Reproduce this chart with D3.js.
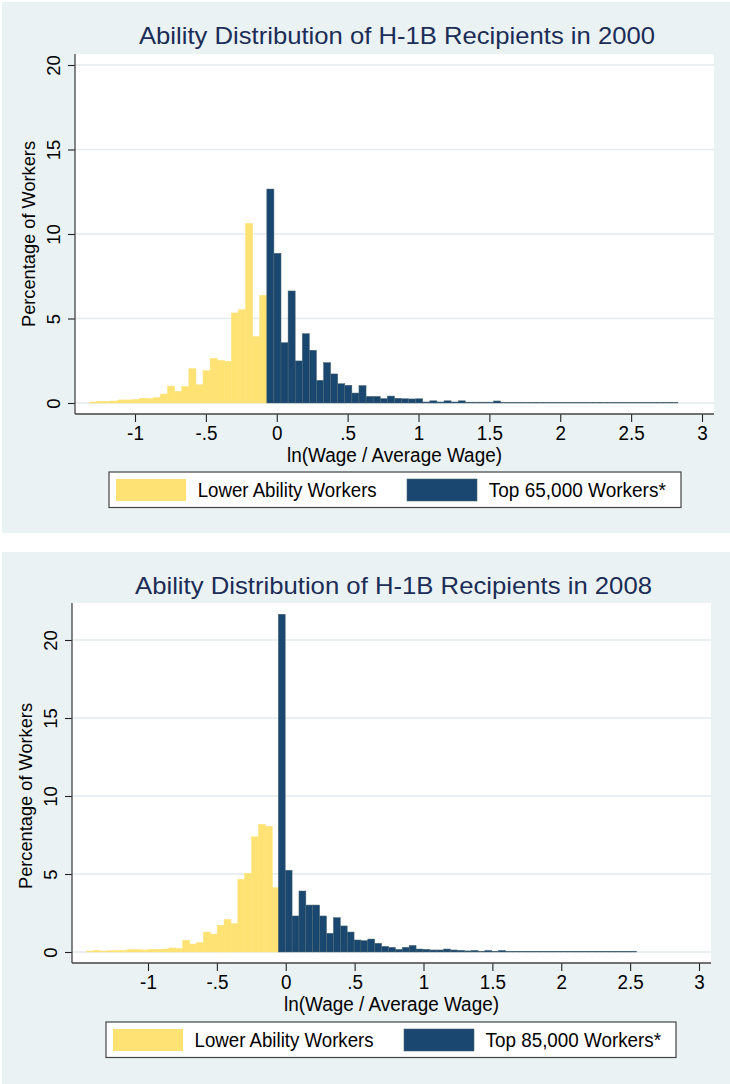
<!DOCTYPE html>
<html><head><meta charset="utf-8">
<script src="https://cdn.jsdelivr.net/npm/d3@7"></script>
<style>
body{margin:0;background:#fff}
svg{display:block}
text{font-family:"Liberation Sans",Arial,Helvetica,sans-serif}
</style>
</head><body>
<svg id="chart" width="730" height="1084"></svg>
<script>
// ---------- data ----------
const xTickValues = [-1, -0.5, 0, 0.5, 1, 1.5, 2, 2.5, 3];
const xTickLabels = ["-1", "-.5", "0", ".5", "1", "1.5", "2", "2.5", "3"];
const yTickValues = [0, 5, 10, 15, 20];
const yTickLabels = ["0", "5", "10", "15", "20"];
const binWidth = 0.05;

const titles = ["Ability Distribution of H-1B Recipients in 2000",
                "Ability Distribution of H-1B Recipients in 2008"];
const xTitle = "ln(Wage / Average Wage)";
const yTitle = "Percentage of Workers";
const lowerLabel = "Lower Ability Workers";
const topLabels = ["Top 65,000 Workers*", "Top 85,000 Workers*"];

// 2000 histogram (percent of workers per 0.05 bin)
const lower2000Start = -1.32;
const lower2000 = [0.06, 0.10, 0.10, 0.12, 0.18, 0.18, 0.20, 0.28, 0.26, 0.32,
                   0.53, 1.00, 0.69, 0.97, 2.03, 1.08, 1.91, 2.64, 2.52, 2.47,
                   5.33, 5.52, 10.63, 3.93, 6.37];
const top2000Start = -0.07;
const top2000 = [12.66, 8.86, 3.57, 6.63, 2.49, 4.10, 3.12, 1.34, 2.39, 1.72,
                 1.14, 1.05, 0.59, 1.03, 0.39, 0.39, 0.26, 0.41, 0.28, 0.25,
                 0.24, 0.25, 0.06, 0.13, 0.06, 0.13, 0.06, 0.13, 0.05, 0.05,
                 0.05, 0.05, 0.12, 0.04, 0.04, 0.04, 0.04, 0.04, 0.04, 0.04,
                 0.04, 0.04, 0.04, 0.04, 0.04, 0.04, 0.04, 0.04, 0.04, 0.04,
                 0.04, 0.04, 0.04, 0.04, 0.04, 0.04, 0.04, 0.04];

// 2008 histogram
const lower2008Start = -1.448;
const lower2008 = [0.06, 0.10, 0.06, 0.08, 0.10, 0.10, 0.15, 0.15, 0.13, 0.17,
                   0.17, 0.19, 0.26, 0.23, 0.75, 0.51, 0.60, 1.28, 1.15, 1.71,
                   2.09, 1.82, 4.66, 5.04, 7.39, 8.18, 8.06, 4.12];
const top2008Start = -0.054;
const top2008 = [21.65, 5.24, 2.31, 3.91, 3.01, 3.01, 2.31, 1.20, 2.20, 1.67,
                 1.28, 0.77, 0.73, 0.83, 0.56, 0.36, 0.30, 0.17, 0.30, 0.42,
                 0.19, 0.17, 0.13, 0.13, 0.19, 0.13, 0.11, 0.07, 0.10, 0.05,
                 0.10, 0.05, 0.10, 0.05, 0.05, 0.05, 0.05, 0.05, 0.05, 0.05,
                 0.05, 0.05, 0.05, 0.05, 0.05, 0.05, 0.05, 0.05, 0.05, 0.05,
                 0.05, 0.05];

// ---------- layout ----------
const YELLOW = "#ffe274", NAVY = "#1a476f", BG = "#eaf2f3";
const panels = [
  { py0: 2, py1: 533, title: titles[0], titleX: 397, titleY: 44, titleW: 516,
    left: 75, right: 714, top: 54, bottom: 414,
    xr: [135, 702], yr: [403, 65],
    lowerStart: lower2000Start, lower: lower2000, topStart: top2000Start, topVals: top2000,
    topLabel: topLabels[0],
    leg: { x0: 109, x1: 681, y0: 472, y1: 507.5, s1: 116, s2: 407, t1: 197.7, t2: 488.8, w1: 179, w2: 177 } },
  { py0: 552, py1: 1084, title: titles[1], titleX: 393.5, titleY: 594, titleW: 517,
    left: 72, right: 711, top: 603, bottom: 963,
    xr: [148, 699], yr: [952, 640],
    lowerStart: lower2008Start, lower: lower2008, topStart: top2008Start, topVals: top2008,
    topLabel: topLabels[1],
    leg: { x0: 106, x1: 676, y0: 1022, y1: 1057.5, s1: 113, s2: 404, t1: 194.6, t2: 485.6, w1: 179, w2: 175.5 } }
];

const svg = d3.select("#chart");

panels.forEach(p => {
  const g = svg.append("g");
  g.append("rect").attr("x", 2).attr("y", p.py0).attr("width", 728).attr("height", p.py1 - p.py0).attr("fill", BG);
  g.append("rect").attr("x", p.left).attr("y", p.top).attr("width", p.right - p.left).attr("height", p.bottom - p.top).attr("fill", "#fff");

  const x = d3.scaleLinear().domain([-1, 3]).range(p.xr);
  const y = d3.scaleLinear().domain([0, 20]).range(p.yr);

  // gridlines
  g.append("g").selectAll("line").data(yTickValues).join("line")
    .attr("x1", p.left).attr("x2", p.right)
    .attr("y1", d => y(d)).attr("y2", d => y(d))
    .attr("stroke", "#e3ebee").attr("stroke-width", 1.4);

  // bars
  const bars = (vals, start, color, stroke) => {
    g.append("g").selectAll("rect").data(vals).join("rect")
      .attr("x", (d, i) => x(start + i * binWidth))
      .attr("width", (d, i) => x(start + (i + 1) * binWidth) - x(start + i * binWidth))
      .attr("y", d => y(d))
      .attr("height", d => y(0) - y(d))
      .attr("fill", color)
      .attr("stroke", stroke).attr("stroke-width", 0.5);
  };
  bars(p.lower, p.lowerStart, YELLOW, YELLOW);
  bars(p.topVals, p.topStart, NAVY, "#4a6670");

  // y axis
  const ya = g.append("g").attr("transform", `translate(${p.left},0)`)
    .call(d3.axisLeft(y).tickValues(yTickValues).tickFormat((d, i) => yTickLabels[i]).tickSize(7).tickSizeOuter(0));
  ya.select(".domain").remove();
  ya.append("line").attr("x1", 0).attr("x2", 0).attr("y1", p.top).attr("y2", p.bottom).attr("stroke", "#444").attr("stroke-width", 1.3);
  ya.selectAll(".tick line").attr("stroke", "#222").attr("stroke-width", 1.1);
  ya.selectAll(".tick text")
    .attr("transform", "rotate(-90)").attr("x", 0).attr("y", -15).attr("dy", 0)
    .attr("text-anchor", "middle").attr("fill", "#000")
    .style("font-size", "18.5px").style("font-family", '"Liberation Sans",Arial,sans-serif');

  // x axis
  const xa = g.append("g").attr("transform", `translate(0,${p.bottom})`)
    .call(d3.axisBottom(x).tickValues(xTickValues).tickFormat((d, i) => xTickLabels[i]).tickSize(8).tickSizeOuter(0));
  xa.select(".domain").remove();
  xa.append("line").attr("x1", p.left).attr("x2", p.right).attr("y1", 0).attr("y2", 0).attr("stroke", "#444").attr("stroke-width", 1.3);
  xa.selectAll(".tick line").attr("stroke", "#222").attr("stroke-width", 1.1);
  xa.selectAll(".tick text")
    .attr("y", 26).attr("dy", 0).attr("fill", "#000")
    .attr("transform", "scale(0.92,1)")
    .style("font-size", "20.5px").style("font-family", '"Liberation Sans",Arial,sans-serif');

  // axis titles
  g.append("text").attr("x", (p.left + p.right) / 2).attr("y", p.bottom + 48)
    .attr("text-anchor", "middle").attr("font-size", 20)
    .attr("textLength", 215).attr("lengthAdjust", "spacingAndGlyphs")
    .text(xTitle);
  g.append("text").attr("transform", `translate(${p.left - 40},${(p.yr[0] + p.yr[1]) / 2}) rotate(-90)`)
    .attr("text-anchor", "middle").attr("font-size", 18.5)
    .attr("textLength", 186).attr("lengthAdjust", "spacingAndGlyphs")
    .text(yTitle);

  // title
  g.append("text").attr("x", p.titleX).attr("y", p.titleY)
    .attr("text-anchor", "middle").attr("font-size", 24).attr("fill", "#1c2d57")
    .attr("textLength", p.titleW).attr("lengthAdjust", "spacingAndGlyphs")
    .text(p.title);

  // legend
  const L = p.leg;
  g.append("rect").attr("x", L.x0).attr("y", L.y0).attr("width", L.x1 - L.x0).attr("height", L.y1 - L.y0)
    .attr("fill", "#fff").attr("stroke", "#444").attr("stroke-width", 1.2);
  g.append("rect").attr("x", L.s1).attr("y", L.y0 + 7).attr("width", 70).attr("height", 22).attr("fill", YELLOW);
  g.append("rect").attr("x", L.s2).attr("y", L.y0 + 7).attr("width", 70).attr("height", 22).attr("fill", NAVY)
    .attr("stroke", "#4a6670").attr("stroke-width", 0.6);
  g.append("text").attr("x", L.t1).attr("y", L.y0 + 25).attr("font-size", 20)
    .attr("textLength", L.w1).attr("lengthAdjust", "spacingAndGlyphs").text(lowerLabel);
  g.append("text").attr("x", L.t2).attr("y", L.y0 + 25).attr("font-size", 20)
    .attr("textLength", L.w2).attr("lengthAdjust", "spacingAndGlyphs").text(p.topLabel);
});
</script>
</body></html>
